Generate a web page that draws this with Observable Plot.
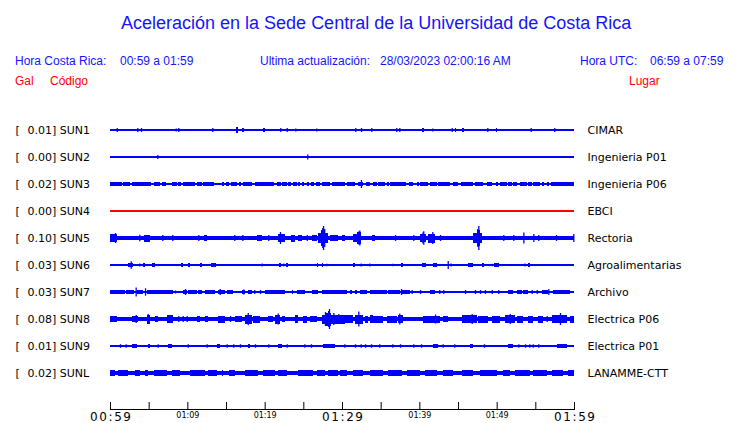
<!DOCTYPE html>
<html><head><meta charset="utf-8">
<script src="https://cdn.jsdelivr.net/npm/d3@7"></script>
<script src="https://cdn.jsdelivr.net/npm/@observablehq/plot@0.6"></script>
<style>
body{margin:0;background:#fff;width:740px;height:423px;overflow:hidden}
#head{position:relative;width:740px;height:100px;font-family:"Liberation Sans",Arial,sans-serif;}
#head span{position:absolute;white-space:nowrap;line-height:1}
.t{font-size:18px;color:#1414ff;top:14px;left:121px}
.b{font-size:12px;color:#1414ff;top:55px}
.r{font-size:12px;color:#ff0000;top:75px}
#chart svg{display:block}
</style></head><body>
<div id="head">
<span class="t">Aceleración en la Sede Central de la Universidad de Costa Rica</span>
<span class="b" style="left:15px">Hora Costa Rica:</span>
<span class="b" style="left:120px">00:59 a 01:59</span>
<span class="b" style="left:260px">Ultima actualización:</span>
<span class="b" style="left:380px">28/03/2023 02:00:16 AM</span>
<span class="b" style="left:580px">Hora UTC:</span>
<span class="b" style="left:650px">06:59 a 07:59</span>
<span class="r" style="left:15px">Gal</span>
<span class="r" style="left:50px">Código</span>
<span class="r" style="left:629px">Lugar</span>
</div>
<div id="chart"></div>
<script>
// ---- data ----
const codigos = ["SUN1","SUN2","SUN3","SUN4","SUN5","SUN6","SUN7","SUN8","SUN9","SUNL"];
const gal = ["0.01","0.00","0.02","0.00","0.10","0.03","0.03","0.08","0.01","0.02"];
const lugares = ["CIMAR","Ingenieria P01","Ingenieria P06","EBCI","Rectoria","Agroalimentarias","Archivo","Electrica P06","Electrica P01","LANAMME-CTT"];
const enLinea = [true,true,true,false,true,true,true,true,true,true];
// background noise half-amplitude (trace units)
const ruido = [0.8,0.8,0.7,0.6,2.2,0.8,0.9,2.0,0.8,1.8];
const inicio = "00:59", fin = "01:59";
const marcas = ["00:59","01:04","01:09","01:14","01:19","01:24","01:29","01:34","01:39","01:44","01:49","01:54","01:59"];
const etiquetasMayores = ["00:59","01:29","01:59"];
const etiquetasMenores = ["01:09","01:19","01:39","01:49"];
// events: [minute, amplitude] spikes, [startMinute, endMinute, amplitude] bursts (minutes after 00:59)
const sun1 = [[0.87,2],[3.53,2],[4.01,2],[8.5,1.5],[8.83,2],[13.23,2],[16.3,16.5,3],[17.1,17.3,2],[19.8,20.0,2],[22.02,2],[22.85,2],[23.96,1.5],[26.68,1.5],[31.72,2],[32.46,2],[33.79,2],[37.02,2],[37.41,2],[40.35,40.55,2],[41.68,1.5],[44.19,2],[44.6,44.8,2],[45.55,45.75,2],[48.79,2],[49.9,50.1,2],[54.4,2],[57.45,2]];
const sun2 = [[6.12,2],[25.51,2.5]];
const sun3 = [[0,1.5,2],[1.7,2.6,2],[2.8,5.3,2],[5.7,6.5,2],[6.7,7.3,2],[8.0,8.6,2],[8.75,9.2,2],[9.5,11.0,2],[11.3,11.85,2],[12.05,13.4,2],[14.45,14.8,2],[14.95,15.4,2],[15.65,16.4,2],[16.7,17.0,2],[17.25,18.3,2],[18.75,19.1,2],[19.2,21.2,2],[21.65,22.05,2],[22.2,22.85,2],[23.0,23.4,2],[23.7,24.15,2],[24.25,24.55,2],[24.8,25.1,2],[25.45,25.75,2],[25.95,26.4,2],[26.65,27.15,2],[27.4,28.45,2],[28.75,30.4,2],[30.6,31.7,2],[32.1,32.75,2],[32.45,4],[33.1,33.6,2],[33.95,34.5,2],[34.7,35.55,2],[35.8,36.1,2],[36.2,38.3,2],[38.6,39.2,2],[39.65,39.9,2],[40.1,41.15,2],[41.4,42.25,2],[42.45,43.95,2],[44.4,45.05,2],[45.35,47.0,2],[47.2,48.25,2],[48.7,49.35,2],[49.9,50.2,2],[50.45,51.3,2],[51.5,51.95,2],[52.15,52.6,2],[53.0,53.9,2],[54.1,54.55,2],[54.75,55.6,2],[55.8,56.1,2],[56.5,56.75,2],[57.0,60.0,2]];
const sun4 = [];
const sun5 = [[0,0.87,4],[0.65,5],[3.79,3.3],[4.44,5.17,3.5],[6.76,3],[8.06,3],[11.42,3],[12.19,12.5,3],[16.07,3],[17.11,3],[18.97,19.62,3],[20.47,3],[21.69,22.63,4],[21.98,6],[23.41,23.92,3.5],[24.27,24.79,3],[25.44,3],[26.08,26.73,3],[26.86,28.19,5],[27.25,27.75,8],[27.45,10],[27.55,12],[27.7,9],[28.45,29.52,3],[29.96,30.39,3],[31.38,31.98,4],[31.98,32.5,6],[32.1,6.5],[32.24,7.5],[33.84,34.27,3],[36.86,3],[39.22,3],[40.09,40.86,4],[40.4,5.5],[40.51,6.7],[41.16,42.03,4.5],[41.68,6],[42.67,3],[46.98,48.07,5],[47.4,47.85,8],[47.5,9],[47.63,12],[50.86,3],[52.15,3],[53.45,5.5],[54.74,4],[55.38,3],[57.67,3],[59.91,4]];
const sun6 = [[2.33,2.97,2],[2.68,3.7],[3.79,1.5],[4.3,4.5,2],[5.39,5.82,2],[9.15,9.4,2],[10.1,10.35,2],[11.65,11.9,2],[13.06,13.71,2.3],[19.62,1.5],[21.85,22.05,2],[22.41,1.5],[22.8,23.0,2],[26.75,26.95,2],[27.35,27.55,2],[27.97,1.2],[31.45,31.65,2],[32.42,1.5],[33.53,1.5],[36.51,1.2],[37.6,37.85,2],[40.31,40.86,2],[41.73,42.25,2],[43.67,4],[44.06,1.5],[46.33,46.98,2],[48.1,48.3,2],[49.36,1.2],[49.66,50.34,2],[53.58,1.5],[54.05,54.3,2]];
const sun7 = [[0,1.94,2],[2.07,3.14,2],[3.32,4.5],[3.45,4.31,2],[4.53,3.7],[4.75,8.19,2],[8.41,1.5],[9.48,9.92,2],[9.7,3],[10.13,11.21,2],[11.42,11.86,2],[12.29,13.58,2],[14.0,14.87,2],[14.19,3],[15.09,15.94,2],[17.03,17.46,2],[17.24,2.5],[17.88,18.32,2],[18.66,2],[19.4,2],[20.04,22.63,2],[23.5,23.7,2],[24.14,25.22,2],[26.08,26.94,2],[27.38,30.61,2],[31.04,31.26,2],[31.68,31.9,2],[32.33,33.2,2],[33.62,35.78,2],[35.99,37.5,2],[37.63,3],[37.72,38.8,2],[39.01,2],[40.09,2],[41.38,42.03,2],[42.58,2],[43.1,2],[45.91,2],[47.2,2],[47.85,2],[48.49,2],[49.36,2],[50.21,2],[51.51,52.15,2],[52.59,53.24,2],[53.45,54.09,2],[54.53,2],[55.18,2],[55.82,56.68,2],[56.68,3],[57.33,59.49,2]];
const sun8 = [[0,0.87,3],[2.81,3.66,3.3],[3.32,4],[4.75,5.17,4.5],[4.88,5],[5.82,6.25,3],[7.33,8.19,4],[8.83,3],[9.4,3],[9.92,3],[11.21,11.64,3],[12.29,12.71,3],[14.0,14.87,3.5],[15.52,3],[16.16,17.03,3],[17.46,18.32,4.5],[17.81,6],[18.53,19.4,3.5],[20.47,21.12,3],[21.34,21.98,4.5],[21.69,5.5],[22.2,22.63,3],[23.92,24.35,4],[25.0,25.44,3.5],[25.86,26.73,3],[27.38,30.39,4.5],[27.9,28.6,6.5],[27.8,7],[28.2,8],[28.32,10],[28.88,6],[29.52,5],[29.74,31.46,4],[31.68,32.76,4.5],[32.11,7.5],[32.98,33.4,3.5],[33.62,34.05,4],[34.05,35.34,3.5],[35.78,37.07,3.5],[37.28,37.93,4],[37.41,5.5],[40.51,42.67,3.5],[42.03,4.5],[43.1,43.75,3],[45.48,47.42,4],[46.77,5],[47.63,48.92,3.5],[49.36,50.43,3.5],[51.08,52.37,4],[51.7,5],[52.59,53.45,3.5],[54.09,54.74,3.5],[55.38,56.03,3.5],[56.47,3],[57.12,59.06,4],[58.19,6],[59.49,60,3.5]];
const sun9 = [[1.29,1.8],[2.03,1.8],[2.81,3.45,1.8],[4.88,5.17,1.8],[6.17,1.8],[7.54,7.98,1.8],[10.05,1.8],[12.5,1.8],[13.8,14.22,1.8],[15.09,1.8],[15.94,1.8],[16.81,1.8],[17.81,18.1,1.8],[18.75,1.8],[20.47,1.8],[21.76,22.2,1.8],[22.85,1.8],[25.13,1.8],[25.99,1.8],[27.58,29.1,1.8],[30.3,1.8],[31.68,1.8],[32.42,1.8],[32.98,1.8],[33.75,1.8],[34.82,1.8],[36.51,1.8],[37.5,1.8],[39.22,1.8],[40.22,1.8],[41.81,42.45,1.8],[43.02,1.8],[44.52,1.8],[46.55,46.98,1.8],[48.36,1.8],[51.51,52.15,1.8],[52.8,1.8],[53.67,1.8],[54.22,1.8],[54.66,1.8],[55.38,1.8],[57.77,59.06,1.8]];
const sunL = [[0,0.65,2.8],[1.07,2.37,2.8],[3.23,3.88,2.8],[4.53,4.96,2.8],[5.73,7.33,2.8],[8.0,9.05,2.8],[10.35,12.29,2.8],[12.71,13.8,2.8],[14.44,14.65,2.8],[15.39,16.16,2.8],[17.46,19.18,2.8],[19.83,21.34,2.8],[21.76,22.85,2.8],[24.35,26.29,2.8],[26.73,27.8,2.8],[28.24,29.52,2.8],[29.74,30.61,2.8],[31.38,32.68,2.8],[33.62,35.34,2.8],[35.99,37.72,2.8],[38.35,40.09,2.8],[40.74,42.25,2.8],[43.1,44.39,2.8],[45.48,46.98,2.8],[47.85,50.0,2.8],[50.86,51.73,2.8],[52.37,54.31,2.8],[54.74,56.47,2.8],[57.12,58.62,2.8],[59.27,60,2.8]];
const eventos = [sun1,sun2,sun3,sun4,sun5,sun6,sun7,sun8,sun9,sunL];

// ---- build ----
const parse = d3.utcParse("%H:%M");
const t0 = parse(inicio), t1 = parse(fin);
const tm = m => new Date(+t0 + m * 60000);
const GAIN = 1 / 27; // trace units -> row spacing
const color = i => enLinea[i] ? "#0000ff" : "#ff0000";

const base = codigos.map((c, i) => ({i, a: ruido[i]}));
const bloques = [], picos = [];
eventos.forEach((ev, i) => ev.forEach(e => {
  if (e.length === 3) bloques.push({i, x1: tm(e[0]), x2: tm(e[1]), a: e[2]});
  else picos.push({i, x: tm(e[0]), a: e[1]});
}));

const chart = Plot.plot({
  width: 740, height: 323,
  marginLeft: 110, marginRight: 166, marginTop: 0, marginBottom: 14,
  x: {type: "utc", domain: [t0, t1]},
  y: {domain: [-1.111, 10.333], reverse: true, axis: null},
  style: {fontFamily: "DejaVu Sans", background: "white", color: "black"},
  marks: [
    Plot.rect(base, {x1: () => t0, x2: () => t1, y1: d => d.i - d.a * GAIN, y2: d => d.i + d.a * GAIN, fill: d => color(d.i), shapeRendering: "crispEdges"}),
    Plot.rect(bloques, {x1: "x1", x2: "x2", y1: d => d.i - d.a * GAIN, y2: d => d.i + d.a * GAIN, fill: d => color(d.i), shapeRendering: "crispEdges"}),
    Plot.ruleX(picos, {x: "x", y1: d => d.i - d.a * GAIN, y2: d => d.i + d.a * GAIN, stroke: d => color(d.i), strokeWidth: 1.3}),
    Plot.text(codigos, {y: (d, i) => i, text: () => "[", frameAnchor: "left", textAnchor: "start", dx: -95, fontSize: 11, fill: "black"}),
    Plot.text(codigos, {y: (d, i) => i, text: (d, i) => gal[i] + "] " + d, frameAnchor: "left", textAnchor: "start", dx: -83, fontSize: 11, fill: "black"}),
    Plot.text(lugares, {y: (d, i) => i, text: d => d, frameAnchor: "right", textAnchor: "start", dx: 13, fontSize: 11, fill: "black"}),
    Plot.frame({anchor: "bottom", stroke: "black"}),
    Plot.axisX(marcas.map(parse), {tickSize: -7, tickFormat: () => "", label: null, stroke: "black"}),
    Plot.axisX(etiquetasMayores.map(parse), {tickSize: 0, tickPadding: 3, fontSize: 12, tickFormat: d3.utcFormat("%H:%M"), label: null, fill: "black"}),
    Plot.axisX(etiquetasMenores.map(parse), {tickSize: 0, tickPadding: 3, fontSize: 8, tickFormat: d3.utcFormat("%H:%M"), label: null, fill: "black"})
  ]
});
document.getElementById("chart").appendChild(chart);
d3.select(chart).selectAll("text").filter(function() { return etiquetasMayores.includes(this.textContent); })
  .attr("letter-spacing", "1.6px").attr("dx", "0.8px");
</script>
</body></html>
